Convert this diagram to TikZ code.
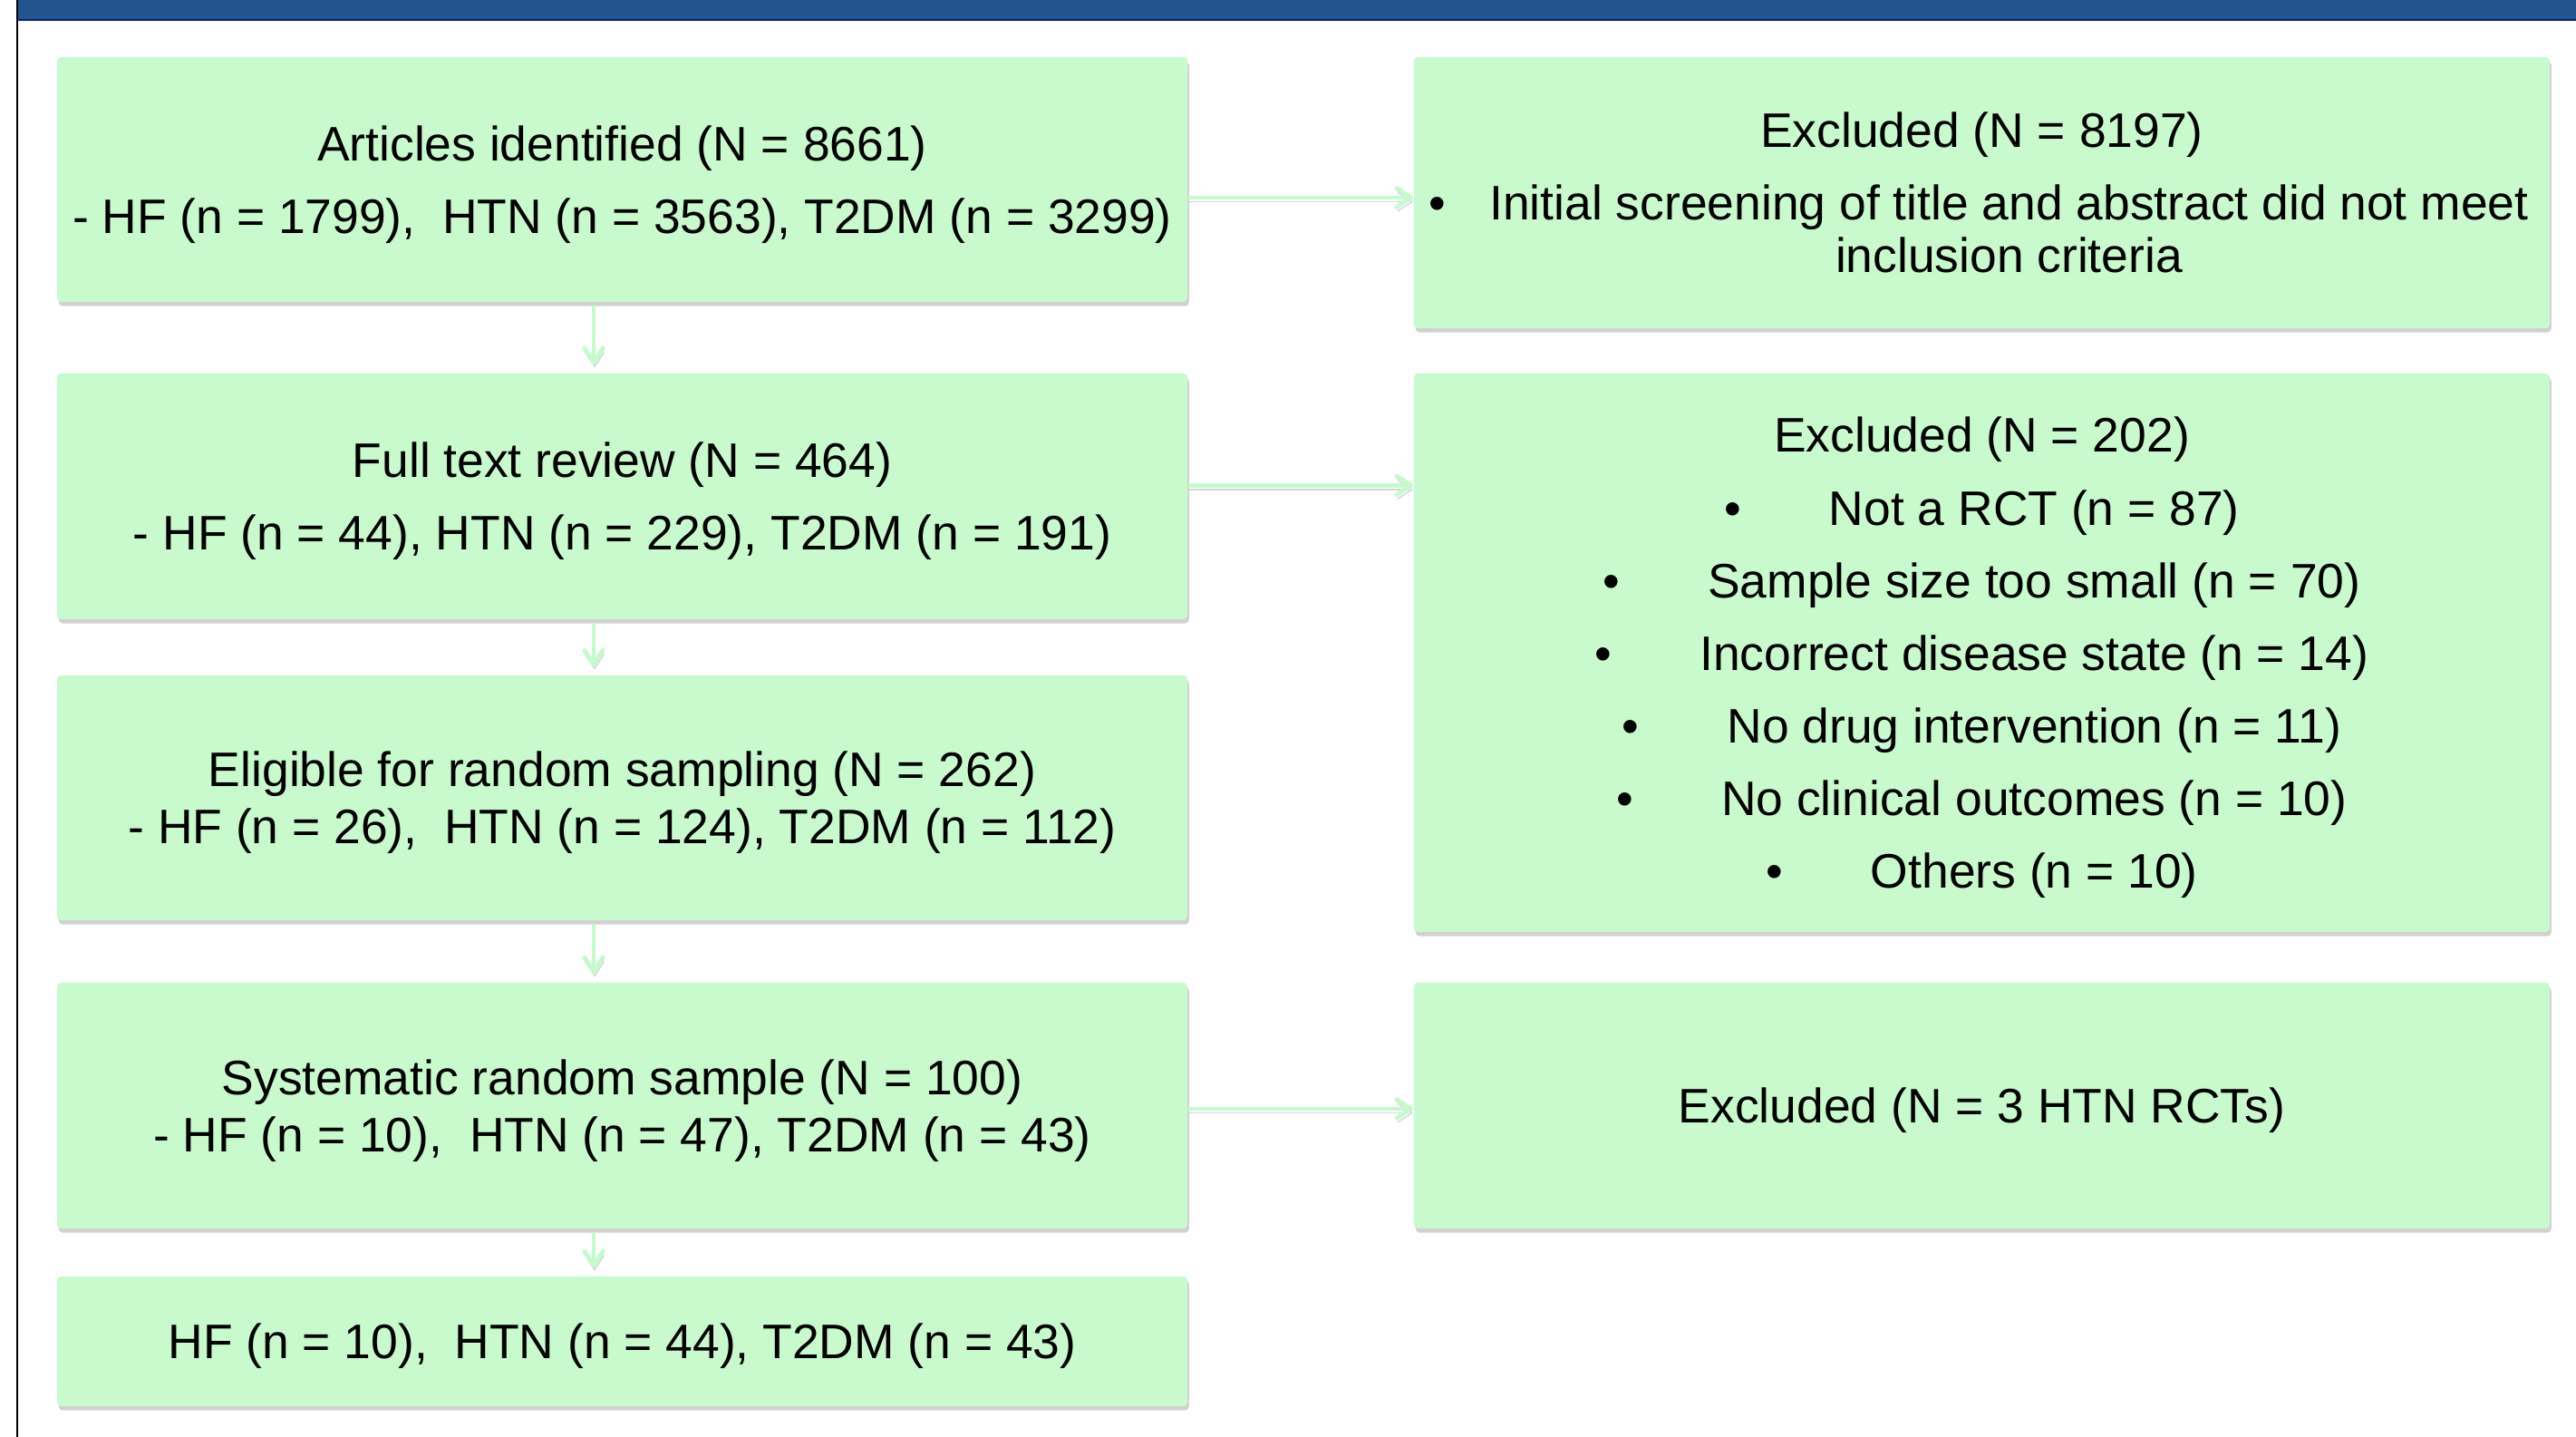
\documentclass[tikz,border=0pt]{standalone}
\usepackage{fontspec}
\setmainfont{Liberation Sans}
\usetikzlibrary{arrows.meta, positioning, shadows, calc}
\definecolor{boxgreen}{RGB}{200,250,205}
\definecolor{arrgreen}{RGB}{198,250,206}
\definecolor{barblue}{RGB}{34,84,144}
\definecolor{barnavy}{RGB}{12,24,140}

\newcommand{\exitem}[1]{\textbullet\hspace{0.97cm}#1}

\begin{document}
\begin{tikzpicture}[
    stage/.style={fill=boxgreen, rounded corners=1.2pt,
                  drop shadow={shadow xshift=0.5pt, shadow yshift=-1.3pt, opacity=0.3, fill=black!60},
                  minimum width=12.47cm, minimum height=2.7cm, inner sep=0pt, text depth=0pt,
                  align=center, font=\fontsize{15.2}{18}\selectfont},
    excl/.style={stage, minimum width=12.53cm},
    arr/.style={-{Straight Barb[length=4.5pt,width=5.8pt,round]}, line width=1.4pt, draw=arrgreen,
                preaction={draw=black!16, transform canvas={shift={(0.3pt,-1.3pt)}}}}
  ]
    \useasboundingbox (0,0) rectangle (28.42,15.85);

    % header bar and left rule
    \fill[barblue] (0.19,15.63) rectangle (28.42,15.85);
    \draw[barnavy, line width=0.6pt] (0.19,15.63) -- (28.42,15.63);
    \draw[black, line width=0.6pt] (0.19,0) -- (0.19,15.85);

    % main flow
    \node[stage] (ident) at (6.865,13.87) {Articles identified (N = 8661)\\[4.8pt]- HF (n = 1799),\ \ HTN (n = 3563), T2DM (n = 3299)};
    \node[stage, minimum height=2.71cm] (review) at (6.865,10.375) {Full text review (N = 464)\\[4.8pt]- HF (n = 44), HTN (n = 229), T2DM (n = 191)};
    \node[stage] (eligible) at (6.865,7.05) {Eligible for random sampling (N = 262)\\- HF (n = 26),\ \ HTN (n = 124), T2DM (n = 112)};
    \node[stage, minimum height=2.71cm] (sample) at (6.865,3.655) {Systematic random sample (N = 100)\\- HF (n = 10),\ \ HTN (n = 47), T2DM (n = 43)};
    \node[stage, minimum height=1.43cm] (final) at (6.865,1.055) {HF (n = 10),\ \ HTN (n = 44), T2DM (n = 43)};

    % exclusions
    \node[excl, minimum height=2.99cm, text depth=] (exc1) at (21.865,13.725) {Excluded (N = 8197)\\[4.8pt]\makebox[0.6cm][l]{\textbullet}\parbox[t]{11.6cm}{\centering\fontsize{15.2}{16.5}\selectfont Initial screening of title and abstract did not meet inclusion criteria}};
    \node[excl, minimum height=6.16cm, font=\fontsize{15.2}{22.8}\selectfont] (exc2) at (21.865,8.65) {Excluded (N = 202)\\
      \exitem{Not a RCT (n = 87)}\\
      \exitem{Sample size too small (n = 70)}\\
      \exitem{Incorrect disease state (n = 14)}\\
      \exitem{No drug intervention (n = 11)}\\
      \exitem{No clinical outcomes (n = 10)}\\
      \exitem{Others (n = 10)}};
    \node[excl, minimum height=2.71cm] (exc3) at (21.865,3.655) {Excluded (N = 3 HTN RCTs)};

    \coordinate (spine) at (6.55,0);
    \draw[arr, shorten <=1pt, shorten >=2.5pt] (ident.south -| spine) -- (review.north -| spine);
    \draw[arr, shorten <=1pt, shorten >=2.5pt] (review.south -| spine) -- (eligible.north -| spine);
    \draw[arr, shorten <=1pt, shorten >=2.5pt] (eligible.south -| spine) -- (sample.north -| spine);
    \draw[arr, shorten <=1pt, shorten >=2.5pt] (sample.south -| spine) -- (final.north -| spine);

    \draw[arr] ([yshift=-2mm]ident.east) -- ([yshift=-2mm]ident.east -| exc1.west);
    \draw[arr] ([yshift=1.2mm]review.east) -- ([yshift=1.2mm]review.east -| exc2.west);
    \draw[arr] ([yshift=-0.35mm]sample.east) -- ([yshift=-0.35mm]sample.east -| exc3.west);
  \end{tikzpicture}
\end{document}
